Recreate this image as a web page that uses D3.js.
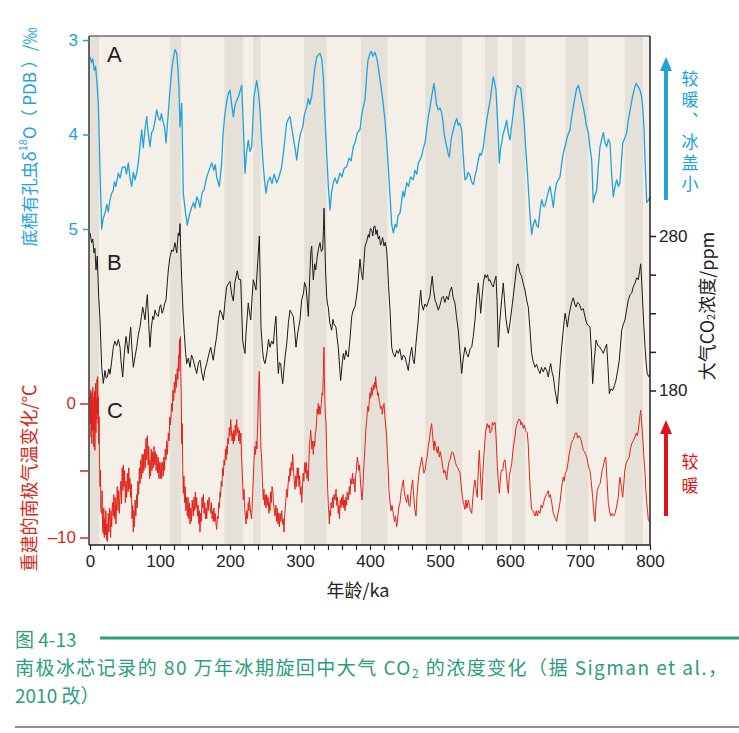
<!DOCTYPE html>
<html><head><meta charset="utf-8">
<script src="https://cdn.jsdelivr.net/npm/d3@7"></script>
<style>body{margin:0;background:#fff}svg{display:block}</style>
</head><body><svg id="c" width="739" height="733"></svg>
<script>
// ---------- DATA ----------
const bandStart = [0,114,192,233,306,387,479,564,603,679,764];
const bandEnd   = [13,130,219,244,338,425,532,582,622,712,790];

const xTicks = [0,100,200,300,400,500,600,700,800];
const blueTicks = [3,4,5];
const tempTicks = [-10,-5,0];
const tempLabels = [-10,0];
const co2Ticks = [180,205,230,255,280];
const co2Labels = [180,280];

// A: benthic foraminifera δ18O (‰), [age ka, value]
const d18O = [[0,3.18],[2.4,3.24],[4,3.2],[6.1,3.32],[8,3.28],[9.6,3.42],[11.9,3.67],[14.3,4.38],[16.7,5.0],[18.5,4.9],[21.4,4.83],[24,4.74],[26,4.82],[28.6,4.69],[31,4.62],[33.3,4.59],[35,4.5],[37,4.55],[40.4,4.41],[43,4.46],[46,4.35],[50,4.34],[52,4.42],[54.7,4.30],[57,4.45],[59.6,4.55],[62,4.4],[64.3,4.48],[66.7,4.41],[69,4.3],[71.4,4.13],[73.9,3.95],[76.1,4.14],[78.5,3.95],[81,3.81],[83,3.98],[85.7,4.13],[88,3.98],[90.4,3.95],[93,3.85],[95.3,3.74],[97.5,3.82],[100,3.85],[102,3.78],[104.7,3.88],[106.5,3.92],[108.6,4.09],[110,3.95],[111.9,3.77],[114,3.55],[116.7,3.32],[119,3.2],[121.4,3.10],[123.9,3.14],[125.5,3.3],[127.1,3.5],[128.6,3.92],[131,3.67],[133.3,4.62],[136,4.8],[139,4.96],[142,4.85],[145.3,4.77],[148,4.72],[150,4.78],[152.4,4.66],[155,4.7],[157.1,4.77],[160,4.62],[163,4.58],[166.7,4.45],[170,4.38],[173.9,4.30],[177,4.38],[179,4.32],[181,4.45],[184.7,4.55],[188.1,4.30],[190,4.0],[192.9,3.77],[196,3.62],[198,3.56],[200,3.53],[202,3.66],[204.7,3.81],[207,3.7],[209,3.65],[211.9,3.60],[214,3.55],[216.7,3.48],[219,3.9],[221.4,4.41],[223.5,4.2],[226.1,4.06],[228.5,4.18],[231,4.13],[234.3,3.60],[238.1,3.43],[240.5,3.55],[242.9,3.74],[245,4.05],[247.6,4.34],[249.5,4.5],[251.4,4.62],[254,4.5],[257.1,4.45],[260,4.52],[263,4.42],[266.7,4.51],[270,4.45],[273.9,4.34],[277,4.15],[280.9,3.88],[283,3.84],[285.7,3.81],[288,3.92],[290.4,4.03],[293,4.15],[295.3,4.27],[298,4.1],[301,3.98],[304,3.92],[306,3.8],[309.6,3.71],[312,3.62],[314,3.68],[316.7,3.60],[319,3.45],[321,3.3],[323.9,3.18],[326,3.16],[328.6,3.14],[331,3.2],[333.3,3.39],[335.5,3.8],[338.1,4.2],[340.5,4.55],[342.9,4.8],[345,4.62],[347.6,4.51],[350,4.46],[353,4.52],[357.1,4.41],[360,4.45],[363,4.36],[366.7,4.34],[370,4.25],[373,4.28],[376.1,4.13],[379,4.08],[382,3.98],[385.7,3.95],[388,3.8],[390,3.72],[392.9,3.63],[395,3.4],[397,3.22],[400,3.14],[402,3.12],[404,3.17],[407.1,3.13],[410,3.2],[412,3.3],[414.3,3.42],[418,3.62],[421.4,3.85],[424,4.1],[426.1,4.34],[429,4.7],[431,4.95],[433.3,5.04],[436,4.95],[438,4.98],[440,4.86],[442.9,4.83],[445,4.72],[447,4.6],[449,4.66],[452.4,4.51],[455,4.55],[458,4.45],[461.9,4.48],[464,4.38],[467,4.42],[469,4.3],[471.4,4.27],[474,4.22],[476,4.15],[478.6,4.09],[481,3.95],[483.3,3.81],[486,3.7],[488,3.6],[491.4,3.46],[493,3.55],[495,3.68],[497.6,3.74],[500,3.72],[502.4,3.77],[504,3.85],[506,4.0],[509.6,4.13],[511.5,4.2],[513.3,4.24],[516,4.05],[519,3.95],[521.5,3.88],[523.9,3.83],[526,3.9],[528,3.88],[531,3.95],[533,4.2],[535.7,4.48],[538,4.46],[540,4.4],[542.9,4.43],[545,4.5],[547.6,4.53],[550,4.44],[552,4.38],[554.7,4.27],[557,4.2],[559,4.22],[561.9,4.13],[564,4.0],[566.7,3.85],[569,3.75],[572.4,3.60],[574,3.5],[576.1,3.39],[578,3.45],[580,3.53],[582.5,3.9],[584.7,4.30],[586.5,4.15],[588.1,4.09],[590,4.0],[592,3.95],[595.3,3.85],[597.5,3.98],[600,4.06],[602.5,3.9],[604.7,3.77],[607,3.62],[610.4,3.48],[613,3.5],[615.3,3.51],[617.5,3.66],[620,3.85],[622,4.1],[624,4.3],[626.1,4.55],[628.5,4.85],[631,5.06],[633,4.96],[635.7,4.90],[638,4.96],[640.4,4.98],[643,4.8],[645.3,4.69],[648,4.76],[650,4.75],[653,4.66],[655,4.6],[657.1,4.55],[659.5,4.65],[661.9,4.77],[664,4.62],[666.7,4.51],[669,4.48],[671.4,4.45],[674,4.3],[676,4.2],[678.6,4.13],[681,4.05],[683,4.0],[685.7,3.95],[688,3.82],[690.4,3.71],[693,3.6],[695,3.52],[697.6,3.48],[700,3.55],[702,3.62],[704.7,3.71],[707,3.8],[709,3.9],[711.9,3.98],[714,4.12],[716.7,4.27],[719,4.72],[721,4.65],[723.9,4.59],[726,4.35],[728.6,4.13],[731,4.05],[733.3,3.98],[735.5,4.08],[738.1,4.13],[740.5,4.05],[742.9,4.09],[745,4.4],[747.6,4.66],[750,4.55],[752.4,4.48],[755,4.55],[757.1,4.51],[759,4.3],[761,4.09],[763.5,4.05],[766.7,3.98],[769,3.85],[772.4,3.71],[775,3.6],[777.5,3.52],[780,3.46],[782,3.48],[785.7,3.53],[788,3.6],[789.6,3.71],[791.5,3.95],[792.9,4.27],[795.3,4.72],[797.5,4.7],[800,4.66]];

// B: atmospheric CO2 (ppm), [age ka, value]
const co2 = [[0,282],[1.2,279],[2.4,275.7],[4,278],[5.7,269],[7,272],[8.6,258],[10.4,267],[12.4,241],[14.3,225.7],[16.7,195],[19,184.6],[21.4,193],[23,188],[24.7,188.7],[27,194],[28.6,190.6],[31,199],[33.3,208],[35.5,212],[38.1,209],[40.5,213],[42.9,208],[44.5,198],[46.7,188.7],[49,204],[51.4,215],[53,210],[54.7,204],[56.5,214],[58.1,221],[60,206],[61.9,195],[64,201],[66.7,208],[69,216],[71.4,221],[73.5,228],[75.3,234],[77,230],[78.6,225.7],[80.5,236],[81.9,242],[84,222],[85.7,208],[87.5,220],[89.6,228],[91,226],[92.9,232],[95,229],[97.6,228],[99.5,234],[101,235.5],[103,230],[104.7,232],[106.5,236],[108.6,238.7],[110.5,250],[111.9,258],[114,266],[116.7,271],[119,270],[121.4,275.7],[123.9,269],[126.1,282],[127.5,280],[128.6,288],[129.5,272],[131,251.7],[133,230],[134.7,217],[136.5,205],[138.1,197.4],[140.5,201],[142.9,195],[145,203],[147.6,199.6],[150,195],[152.4,191],[155,198],[157.1,199.6],[159.5,192],[161.9,186.5],[164,193],[166.7,197.4],[169.5,203],[172.4,208],[174.5,203],[176.1,199.6],[178.5,208],[181,215],[183.5,226],[185.7,232],[188,230],[190.5,225.7],[193,238],[195.2,247],[197.5,249],[200,250.6],[202.5,242],[204.7,238],[207,250],[210.4,257.5],[212.5,252],[215.3,251.7],[218.1,212.6],[220,207],[221.4,204],[223,218],[226.1,236.7],[228,230],[229.6,225.7],[231.5,240],[233.3,251.7],[235,249],[237.1,245],[239.5,262],[241.9,280],[243.2,250],[244.3,221],[246.5,206],[248,200],[250,197.4],[253,205],[255,213],[257.1,208],[259.5,212],[261.9,210],[264,222],[265.7,228],[267.5,205],[269,191],[270.5,198],[272.4,197.4],[273.8,190],[275.3,184.4],[277.5,196],[279,203],[281,210],[283.5,224],[285.7,232],[288,230],[290.4,228],[292.5,218],[294.3,208],[297,218],[300,225.7],[302.4,238.7],[305,243],[306.5,250],[308.6,247],[310.3,238],[311.9,228],[313.2,245],[314.3,258],[315.5,270],[316.7,273.5],[317.8,262],[319,251.7],[321,262],[322.5,258],[324.7,267],[326.5,272],[328.6,275.7],[330.5,270],[332.4,271.3],[333.4,283],[334.3,298],[335.3,280],[336.5,258],[338.1,241],[339.2,236],[340.4,234],[342.5,224],[345.3,219],[347,226],[348.5,223],[351.4,221],[353,214],[354.7,208],[356.5,196],[358.1,186.5],[360,196],[361.9,204],[363.5,200],[365.7,206],[367,203],[369,201.7],[371.5,214],[373.9,228],[376,232],[378.6,234.3],[380.5,240],[382.4,247],[384,256],[385.7,265],[387.5,257],[389.6,251.7],[391.2,262],[392.9,273.5],[395,276],[397.6,281],[399,279],[400.5,285],[402.4,284],[404,280],[405.5,286],[407.1,286.5],[408.5,281],[410,284],[411.9,278],[413.5,280],[415,274],[416.7,276],[418,279],[420,273.5],[421.8,276],[423.8,271],[425,262],[426.5,248],[428.6,232],[431,208],[433,204],[435.7,201.7],[438,206],[440.4,204],[442.5,207],[445.3,199.6],[447.5,203],[450,201.7],[452,198],[454.7,193],[457,202],[459.6,208],[461.5,200],[463.3,197.4],[466,212],[469,225.7],[470.5,236],[472.4,245],[474,236],[476.1,232],[478.5,236],[481,234.3],[483.5,238],[485.7,241],[487,247],[488.9,254],[490.5,246],[492.9,238.7],[495,236],[497.6,232],[500.5,236],[502.5,240],[504.7,241],[507,237],[509.5,241],[511.9,238.7],[514,244],[516.7,247],[518.8,240],[521.4,236.6],[523.5,228],[526.1,219],[528.5,205],[531,191],[533,200],[535.7,208],[538,204],[540.4,201.7],[543,207],[545.3,208],[547.5,215],[550,225.7],[552.5,240],[554.7,249.6],[556.5,240],[558.1,230],[560,240],[562,250],[564.3,255],[566,253],[568,255],[569.5,251],[571.4,251.7],[573.5,249],[576.1,247],[578,251],[580,254],[581.7,236],[583.3,208],[585.5,225],[588.1,238.7],[590.4,249.6],[592,240],[593.9,228],[595.5,222],[597.6,217],[600,224],[602.5,233],[604.7,241],[607,250],[609.6,260.4],[611.5,262],[614.3,256],[616.5,254],[619,249],[621.4,245],[624,238],[626.1,234],[628.5,220],[630.9,204],[633,199],[635.7,195],[638,197],[640,194],[642.9,191],[645,195],[647.5,192],[650,195],[652.5,193],[654.7,188.7],[656.5,194],[658.1,197.4],[660,192],[661.9,188.7],[663,185],[664.3,180],[666,176],[667.6,171.3],[669.5,183],[671.4,195],[673.5,207],[676.1,219],[678.6,230],[680.3,226],[681.9,221],[684,228],[685.7,232],[688,237],[690.4,240],[692.5,236],[694.3,234],[696.5,237],[699,236],[702,232],[704.7,233],[707,228],[709.6,223.5],[712,222],[714.3,221],[716.3,205],[718.1,184.4],[720.5,200],[722.9,212.6],[725.5,209],[728.6,208],[731,206],[733.3,204],[735.5,207],[738.1,210],[740,195],[741.9,178],[744,181],[746.7,180],[749,183],[751.4,186.5],[753.5,192],[756.1,199.6],[758,210],[759.6,219],[762,223],[764.3,225.7],[766.5,232],[769,238.7],[771.5,242],[773.9,243],[776,247],[778.6,249.6],[781,253],[783.3,251.7],[785,257],[786.7,262],[788.2,250],[789.6,236.6],[791.2,222],[792.9,208],[794.5,198],[796.1,191],[798,189],[800,191]];

// C: reconstructed Antarctic temperature change (°C), [age ka, value]
const temp = [[0,0.5],[0.5,-1.5],[1,1],[1.5,-2.5],[2,0.8],[2.5,-3],[3,0.2],[3.5,-2],[4,1.2],[4.5,-1],[5,-3.2],[5.5,0.5],[6,-2],[6.5,0.9],[7,-3.5],[7.5,-0.5],[8,1.5],[8.5,-2.2],[9,0.3],[9.5,-1.2],[10,1.8],[10.5,-0.8],[11,2],[11.5,-1.5],[12,0.5],[12.5,-3],[13,-1],[13.5,-4],[14.3,-6.2],[15,-5],[15.5,-8],[16.7,-8.2],[17.3,-6.5],[18,-9.4],[19,-9.7],[19.7,-7.8],[20.5,-10],[21,-8.6],[22,-9.8],[22.6,-8],[23.8,-10.2],[24.5,-9],[25,-10.3],[26,-8.2],[27,-9.6],[28,-7.8],[28.6,-8.8],[29.5,-10],[30,-8],[31,-9.2],[32,-7.4],[33.3,-8.4],[34,-6.8],[35,-8.6],[36,-7],[37,-9],[38.1,-7.4],[39,-6.2],[40,-8],[41,-6.5],[42,-8.2],[42.9,-7],[44,-5.8],[45,-7.5],[46,-4.8],[47,-6.5],[47.6,-4.6],[48.5,-6.2],[49.5,-5],[50.5,-7.4],[51.5,-5.8],[52.4,-7],[53.5,-5.2],[54.5,-6.6],[55.5,-4.8],[56,-6.4],[57.1,-5.6],[58,-7],[59,-6],[60,-8.6],[61,-7.6],[61.9,-9.6],[62.5,-8],[63.5,-9.2],[64.5,-7.2],[65.5,-8.4],[66.7,-6.8],[67.5,-7.8],[68.5,-5.8],[69.5,-6.8],[70.5,-4.8],[71.4,-6],[72.5,-4.2],[73.5,-5.6],[74.5,-3.8],[75.5,-5.2],[76.1,-3.8],[77,-5],[78,-3.4],[79,-4.8],[80,-2.6],[81,-4.2],[82,-2.4],[83,-4.6],[84,-3.2],[85,-5.6],[85.7,-4.2],[86.5,-5.4],[87.5,-3.4],[88.5,-5],[89.5,-3.6],[90.4,-4.8],[91.5,-3.2],[92.5,-4.6],[93.5,-3.6],[94.5,-5],[95.3,-3.8],[96.5,-5.2],[97.5,-4],[98.5,-5.6],[99.5,-4.4],[100.5,-5.6],[101.5,-4.4],[102.5,-5.6],[103.5,-4.4],[104.7,-5.4],[105.5,-4],[106.5,-5],[107.5,-3.4],[108.6,-4.2],[109.5,-2.8],[110.5,-3.8],[111.9,-2.2],[113,-2.8],[114,-1],[115,-1.6],[116.7,0],[117.5,-0.6],[118.5,1],[119.5,0.2],[120.5,1.6],[121.4,0.8],[122.5,2.2],[123.5,1.2],[124.7,2.6],[125.5,1.8],[126.5,3.6],[127.2,2.4],[127.8,4.8],[128.6,3.4],[129.2,5],[129.8,2],[130.4,0.5],[131,-3],[131.8,-1.5],[132.5,-5],[133.3,-6.7],[134.2,-5.4],[135,-7.4],[136,-6.2],[137,-8],[138.1,-7],[139,-8.4],[140,-7],[141,-8.6],[142,-7.4],[142.9,-9],[144,-7.8],[145,-8.8],[146,-7.2],[147.6,-8.4],[148.5,-7],[149.5,-8],[150.5,-6.6],[151.5,-7.8],[152.4,-7],[153.5,-8.4],[154.5,-7.6],[155.5,-9],[156.3,-8],[157.1,-9.6],[158,-8.2],[159,-8.8],[160,-7],[161,-7.8],[161.9,-6.8],[163,-8.2],[164,-7.4],[165,-8.6],[166,-7.8],[166.7,-8.6],[168,-7.2],[169,-8],[170,-7],[171.4,-7.6],[172.5,-8.2],[173.5,-7.4],[174.5,-8.6],[175.5,-8],[176.1,-8.8],[177,-7.8],[178,-8.8],[179,-8.2],[180,-9],[181,-9.4],[182,-8.4],[183,-8.6],[184,-7.4],[185,-7.8],[185.7,-6.6],[186.5,-7],[187.5,-5.8],[188.5,-6.2],[189.5,-4.8],[190.5,-5.4],[191.5,-4.2],[192.5,-4.6],[193.5,-3.4],[194.5,-4.2],[195.2,-3.2],[196,-3.8],[197,-2.6],[198,-3],[199,-1.8],[200,-2.4],[201,-1.2],[202,-2],[203,-2.8],[204,-2.2],[204.7,-3],[205.5,-2],[206.5,-2.8],[207.5,-1.6],[208.5,-2.4],[209.5,-1.2],[210.5,-2.2],[211.5,-1.8],[212.5,-2.8],[213.5,-2],[214.3,-3],[215.5,-2.2],[216.5,-4],[217.5,-5.2],[218.3,-6.2],[219,-7.2],[220,-6.4],[221,-7.8],[222,-8.4],[222.9,-9],[224,-8],[225,-8.6],[226,-7.4],[227,-8],[227.6,-7],[228.5,-7.6],[229.5,-8.2],[230.9,-8.6],[232,-7.2],[233,-6],[234,-4.6],[235,-3.6],[235.7,-3.2],[236.5,-3.8],[237.5,-2.8],[238.5,-3.4],[239,-2.4],[239.8,-1.2],[240.5,0.4],[241.2,1.8],[241.9,2.4],[242.6,0.8],[243.4,-1.6],[244.3,-3.4],[245.3,-4.2],[246.3,-5.8],[247.6,-7.2],[248.5,-6.4],[249.5,-7.6],[250.5,-6.8],[251.5,-7.8],[252.4,-6.8],[253.5,-7.6],[254.5,-7],[255.5,-8.2],[256.5,-7.4],[257.1,-8],[258,-6.6],[259,-7.4],[260,-6.2],[261,-6.4],[262,-7.4],[263,-7.8],[264.3,-8.4],[265.5,-7.6],[266.5,-8.8],[267.5,-7.8],[268.5,-9],[269.5,-8.2],[270.5,-9.2],[271.5,-8.2],[272.5,-8.8],[273.9,-8],[275,-9],[276,-8.6],[277.1,-9.6],[278,-8.4],[279,-7.8],[280,-7],[281,-6.4],[282,-7],[283,-6],[284,-5.4],[285,-5.8],[285.7,-4.8],[286.5,-5.4],[287.5,-4.4],[288.5,-5],[289.6,-3.8],[290.5,-4.8],[291.5,-5.6],[292.9,-6.4],[294,-5.4],[295,-6.2],[296,-4.8],[297,-5.6],[297.6,-4.8],[298.5,-6.2],[299.5,-5.4],[300.5,-6.8],[301.5,-6.2],[302.4,-7.4],[303.5,-6.4],[304.5,-5.2],[305.5,-5.8],[306.5,-4.6],[307.1,-4.4],[308,-5.2],[309,-4.4],[310,-5.6],[311,-5],[311.9,-5.8],[312.8,-4.2],[313.6,-3],[314.5,-2.6],[315.3,-2],[316.2,-2.8],[317,-3.4],[318,-2.8],[319,-3.8],[320,-2.8],[321,-3.2],[322,-2.2],[322.9,-2],[323.8,-1.2],[324.6,-0.4],[325.4,-0.8],[326.1,0],[327,-0.8],[328,-0.2],[328.8,-0.8],[329.6,-0.4],[330.5,0],[331.5,0.8],[332.4,0.6],[333.2,2],[333.8,3.6],[334.3,4.2],[334.8,2],[335.4,0.5],[336.2,-0.8],[337.1,-1.4],[338,-3.5],[338.8,-5.2],[339.6,-6.5],[340.5,-7.6],[341.3,-8.2],[341.9,-9],[342.6,-8],[343.5,-8.4],[344.4,-7.4],[345.3,-7.8],[346.5,-7],[347.5,-7.8],[348.5,-6.8],[350,-7.2],[351.5,-6.4],[352.5,-7.6],[353.5,-7],[354.7,-8.2],[355.5,-7.6],[356.5,-8.6],[357.5,-7.2],[358.5,-7.8],[359.6,-7],[360.5,-7.6],[361.5,-6.8],[362.5,-7.8],[363.5,-7.2],[364.3,-8],[365.5,-7],[366.5,-7.6],[367.5,-6.6],[369,-7.2],[370.5,-6.2],[371.5,-6.8],[372.5,-5.6],[373.9,-6],[375,-5.2],[376,-6],[377,-5.6],[378.6,-6.6],[379.5,-5.4],[380.5,-5],[381.9,-4],[383,-4.4],[384,-5],[385,-4.6],[385.7,-5.2],[386.5,-6],[387.5,-6.6],[388.5,-7.2],[389.6,-6.6],[390.5,-5.4],[391.5,-4.4],[392.9,-3.2],[394,-2],[395,-1.4],[396.1,-0.7],[397,-0.2],[398,-0.6],[399,0.2],[400,0.8],[401,0.4],[402,1.2],[403,0.6],[404.7,1.4],[405.5,1],[406.5,1.6],[407.3,1.2],[408.1,2],[409,1.4],[410,1],[411,0.6],[411.9,0.8],[413,0.2],[414,0],[415,-0.4],[416.7,-0.2],[417.5,-0.8],[418.5,-0.4],[419.3,-0.2],[420,0],[421,-0.8],[422,-1.4],[423,-2],[423.8,-2.5],[425,-4],[426.1,-5],[427,-6.4],[428.6,-7.4],[430,-8],[431.5,-7.6],[433.3,-8.2],[435,-8.8],[436.5,-8.4],[438.1,-9.2],[439.5,-8.6],[441,-7.8],[442.9,-7.4],[444.5,-6.6],[446,-6.2],[447.6,-5.7],[449,-6.6],[450.5,-7],[452.4,-7.4],[454,-6.8],[455.5,-7.6],[457.1,-7.7],[458.5,-6.6],[460,-6],[461,-5.7],[462.5,-7],[463.8,-7.8],[465.7,-8.4],[467,-7],[468.5,-6],[470.4,-5],[472,-4.6],[473.9,-4],[475.5,-4.6],[477,-5.2],[478.6,-5],[480,-4.4],[481.5,-4],[483.3,-3.2],[485,-2.6],[486.5,-2],[488.1,-1.5],[489.5,-2.4],[491.4,-3.5],[492.5,-2.8],[494,-3.2],[496.1,-3.7],[497.5,-3.2],[499,-4],[500.5,-3.6],[502.4,-4.2],[504,-4.8],[505.5,-5.2],[507,-5],[509.6,-5.7],[511,-5],[512.5,-4.4],[514.3,-4.2],[516,-3.8],[517.5,-3.6],[519,-3.7],[520.5,-4],[522,-4.4],[523.9,-4.7],[525.5,-4.8],[527,-5],[528.6,-5.2],[530,-6],[532,-7],[533.5,-7.4],[535.7,-7.9],[537,-7.2],[538.5,-7.8],[540.4,-7.2],[542,-7.6],[543.5,-8],[545.3,-8.2],[547,-7],[548.5,-6.2],[550,-5.7],[551.5,-6.4],[553.3,-7],[554.5,-5.2],[556.1,-3.5],[557.5,-5],[559.6,-7.2],[561,-5.5],[562.5,-4],[564.3,-2.7],[565.5,-2],[567.6,-1.5],[569,-1.8],[570.5,-1.6],[571.5,-2.2],[573.9,-2],[575,-1.4],[576.5,-1.6],[578.6,-1.4],[580,-2.4],[581.9,-4.7],[583.3,-5.8],[584.7,-6.7],[586,-5.8],[587.5,-5],[589.6,-5],[591,-4.4],[592.9,-4.2],[594.5,-5],[596,-6],[597.6,-6.7],[599,-5.4],[600.5,-5],[602.4,-4.5],[604,-3.6],[605.5,-3],[607.1,-2.5],[608.5,-1.8],[610.4,-1.5],[612,-1.2],[614.3,-1.2],[615.5,-1.6],[617,-1.4],[619,-1.85],[620.5,-1.6],[622,-2],[624.7,-2.2],[626,-3],[627.6,-5],[629,-6.6],[630.9,-7.9],[633,-8],[635.7,-8.4],[637.5,-8],[639,-8.4],[640.5,-8],[642.9,-8.2],[644.5,-7.6],[646,-7.8],[648,-7.4],[650,-7],[652,-6.8],[654.7,-6.5],[656,-7],[657.5,-6.8],[659.6,-7.4],[661.9,-8.2],[663.5,-8.4],[665,-8.6],[666.7,-8.8],[668.5,-8.2],[670,-7.8],[671.4,-7.4],[673,-6.6],[674.5,-6],[676.1,-5.5],[677.5,-5.8],[679,-5.2],[681,-5],[683,-4.4],[684.5,-3.8],[685.7,-3.5],[687.5,-3],[689,-2.8],[690.4,-2.7],[692,-2.4],[693.5,-2.2],[695.3,-2.2],[696.5,-2.6],[698,-2.4],[700,-2.5],[702,-2.8],[703.5,-3.2],[704.7,-3.5],[706.5,-3.6],[708,-3.8],[709.6,-4],[711,-4.4],[712.5,-4.8],[714.3,-5],[716,-5.8],[718.1,-7],[719.5,-8],[721.4,-8.8],[723,-7.4],[724.7,-6.5],[726.5,-6.2],[728.6,-6],[730.5,-5.4],[731.5,-5],[733.3,-4.7],[735,-4.2],[736.7,-4],[738.5,-5.6],[740.4,-7.4],[742,-8],[743.9,-8.4],[746,-8.2],[748,-8.4],[750,-8.2],[752,-7.8],[754.7,-7],[756,-6],[757.1,-5.5],[759,-6.2],[761,-7],[762.5,-6],[764,-5],[765.7,-4.5],[768,-4.2],[770.4,-4],[772,-3.4],[773.9,-3],[776,-2.8],[778.6,-2.5],[780.5,-2.2],[782,-2.4],[783.3,-2],[785,-1.2],[786.7,-0.5],[788,-1.4],[789.6,-2.5],[791,-3.8],[792.9,-5.2],[794,-6.4],[795.3,-7.4],[796.5,-8],[797.6,-8.7],[799,-8.8],[800,-8.9]];

// ---------- DRAW ----------
const svg = d3.select("#c");
const L = 89, R = 650, T = 36, B = 545;
const BLUE = "#22a2dc", RED = "#e2231c", TEAL = "#2a9d80";
const latin = "'Liberation Sans', Arial, sans-serif";
const cjk = "'Noto Sans CJK SC', 'Liberation Sans', sans-serif";

const x = d3.scaleLinear().domain([0,800]).range([90,650]);
const yB = d3.scaleLinear().domain([3,5]).range([40,229]);
const yC = d3.scaleLinear().domain([180,280]).range([390.5,236]);
const yT = d3.scaleLinear().domain([-10,0]).range([537.5,403.5]);

svg.append("rect").attr("x",L).attr("y",T).attr("width",R-L).attr("height",B-T).attr("fill","#f4f0e7");
svg.append("g").selectAll("rect").data(bandStart).join("rect")
  .attr("x",(d)=>x(d)).attr("y",T).attr("width",(d,i)=>x(bandEnd[i])-x(d)).attr("height",B-T)
  .attr("fill","#e6e1d8");

const line = (ys) => d3.line().x(d=>x(d[0])).y(d=>ys(d[1])).curve(d3.curveLinear);
svg.append("path").datum(temp).attr("d",line(yT)).attr("fill","none").attr("stroke",RED).attr("stroke-width",1).attr("stroke-linejoin","round");
svg.append("path").datum(co2).attr("d",line(yC)).attr("fill","none").attr("stroke","#1b1b1b").attr("stroke-width",1).attr("stroke-linejoin","round");
svg.append("path").datum(d18O).attr("d",line(yB)).attr("fill","none").attr("stroke",BLUE).attr("stroke-width",1.3).attr("stroke-linejoin","round");

// frame
svg.append("line").attr("x1",L).attr("x2",R).attr("y1",T).attr("y2",T).attr("stroke","#6e6e6e").attr("stroke-width",1.5);
svg.append("line").attr("x1",L).attr("x2",L).attr("y1",T).attr("y2",B).attr("stroke","#333").attr("stroke-width",1.5);
svg.append("line").attr("x1",R).attr("x2",R).attr("y1",T).attr("y2",B).attr("stroke","#222").attr("stroke-width",1.5);

function styleAxis(g, color, fs){
  g.select(".domain").remove();
  g.selectAll("line").attr("stroke",color).attr("stroke-width",1.5);
  g.selectAll("text").attr("fill",color).attr("font-family",latin).attr("font-size",fs);
}
svg.append("g").attr("transform",`translate(${L},0)`)
  .call(d3.axisLeft(yB).tickValues(blueTicks).tickSize(6).tickPadding(5).tickFormat(d3.format("d")))
  .call(g=>styleAxis(g,BLUE,17));
svg.append("g").attr("transform",`translate(${L},0)`)
  .call(d3.axisLeft(yT).tickValues(tempTicks).tickSize(9).tickPadding(4).tickFormat(d=>tempLabels.includes(d)?(d<0?"\u2013"+Math.abs(d):d):""))
  .call(g=>styleAxis(g,"#d42a20",17));
svg.append("g").attr("transform",`translate(${R},0)`)
  .call(d3.axisRight(yC).tickValues(co2Ticks).tickSize(6).tickPadding(3).tickFormat(d=>co2Labels.includes(d)?d:""))
  .call(g=>styleAxis(g,"#222",17));
const xg = svg.append("g").attr("transform",`translate(0,${B})`)
  .call(d3.axisBottom(x).tickValues(d3.range(0,801,20)).tickSize(5).tickPadding(5).tickFormat(d=>xTicks.includes(d)?d:""));
xg.select(".domain").attr("stroke","#222").attr("stroke-width",1.5).attr("d",`M${L},0H${R}`);
xg.selectAll("line").attr("stroke","#222").attr("stroke-width",1.2);
xg.selectAll("text").attr("fill","#222").attr("font-family",latin).attr("font-size",17);

// panel letters
[["A",62],["B",270],["C",418]].forEach(([t,yy])=>{
  svg.append("text").attr("x",107).attr("y",yy).text(t).attr("font-family",latin).attr("font-size",22).attr("fill","#222");
});

// axis titles
const tb = svg.append("text").attr("transform","translate(28,137) rotate(-90)").attr("text-anchor","middle")
  .attr("dominant-baseline","central").attr("font-family",cjk).attr("font-size",17).attr("fill",BLUE);
tb.append("tspan").text("底栖有孔虫δ");
tb.append("tspan").text("18").attr("font-size",11).attr("dy",-6);
tb.append("tspan").text("O（ PDB ）/‰").attr("dy",6);

svg.append("text").attr("transform","translate(28,478) rotate(-90)").attr("text-anchor","middle")
  .attr("dominant-baseline","central").attr("font-family",cjk).attr("font-size",18).attr("fill","#d42a20")
  .text("重建的南极气温变化/℃");

const tr = svg.append("text").attr("transform","translate(706,306) rotate(-90)").attr("text-anchor","middle")
  .attr("dominant-baseline","central").attr("font-family",cjk).attr("font-size",18).attr("fill","#222");
tr.append("tspan").text("大气CO");
tr.append("tspan").text("2").attr("font-size",11).attr("dy",4);
tr.append("tspan").text("浓度/ppm").attr("dy",-4);

svg.append("text").attr("x",358).attr("y",597).attr("text-anchor","middle").attr("font-family",cjk)
  .attr("font-size",18).attr("fill","#222").text("年龄/ka");

// arrows
function arrow(xx, y0, y1, color){
  svg.append("line").attr("x1",xx).attr("x2",xx).attr("y1",y0).attr("y2",y1+12).attr("stroke",color).attr("stroke-width",4);
  svg.append("path").attr("d",`M${xx-6},${y1+14}L${xx},${y1}L${xx+6},${y1+14}Z`).attr("fill",color);
}
arrow(666,200,57,BLUE);
arrow(666,516,420,"#e0141b");
svg.append("text").attr("x",690).attr("y",70).attr("font-family",cjk).attr("font-size",17)
  .style("writing-mode","vertical-rl").attr("letter-spacing",4).attr("fill",BLUE).text("较暖、冰盖小");
svg.append("text").attr("x",690).attr("y",453).attr("font-family",cjk).attr("font-size",17)
  .style("writing-mode","vertical-rl").attr("letter-spacing",7).attr("fill","#e0141b").text("较暖");

// caption
svg.append("text").attr("x",15).attr("y",647).attr("font-family",cjk).attr("font-size",19).attr("fill",TEAL).text("图 4-13");
svg.append("line").attr("x1",100).attr("x2",739).attr("y1",638).attr("y2",638).attr("stroke",TEAL).attr("stroke-width",3);
const c2 = svg.append("text").attr("x",15).attr("y",675).attr("font-family",cjk).attr("font-size",19).attr("fill",TEAL)
  .attr("textLength",712).attr("lengthAdjust","spacing");
c2.append("tspan").text("南极冰芯记录的 80 万年冰期旋回中大气 CO");
c2.append("tspan").text("2").attr("font-size",12).attr("dy",3);
c2.append("tspan").text(" 的浓度变化（据 Sigman et al.，").attr("dy",-3);
svg.append("text").attr("x",15).attr("y",703).attr("font-family",cjk).attr("font-size",19).attr("fill",TEAL).text("2010 改）");
svg.append("line").attr("x1",15).attr("x2",739).attr("y1",727).attr("y2",727).attr("stroke","#222").attr("stroke-width",1.2);
</script></body></html>
